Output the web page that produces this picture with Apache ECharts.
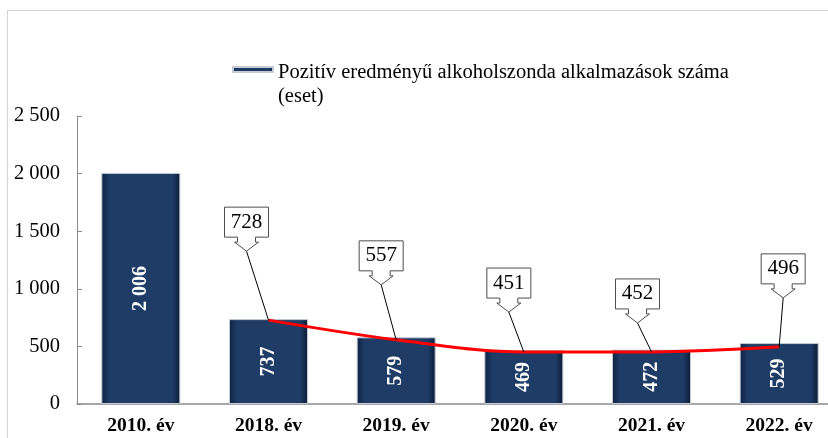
<!DOCTYPE html>
<html>
<head>
<meta charset="utf-8">
<script src="https://cdn.jsdelivr.net/npm/echarts@6/dist/echarts.min.js"></script>
<style>
  html, body { margin: 0; padding: 0; background: #fff; }
  #chart { width: 828px; height: 438px; }
</style>
</head>
<body>
<div id="chart"></div>
<script>
// adatok
const categories = ['2010. év', '2018. év', '2019. év', '2020. év', '2021. év', '2022. év'];
const barValues = [2006, 737, 579, 469, 472, 529];
const barName = 'Pozitív eredményű alkoholszonda alkalmazások száma\n(eset)';
const lineYears = ['2018. év', '2019. év', '2020. év', '2021. év', '2022. év'];
const lineValues = [728, 557, 451, 452, 496];

// a címkék nyilának csúcsa a ponthoz képest (px)
const calloutOffsets = [[-22, -69], [-15, -55], [-15, -40], [-14, -29], [4, -49]];
const calloutShape = [[-22, -44], [22, -44], [22, -14], [9, -14], [9, -9], [12, -9], [0, 0],
  [-12, -9], [-9, -9], [-9, -14], [-22, -14]];

const SERIF = '"Liberation Serif", "Times New Roman", serif';
const fmt = v => String(v).replace(/\B(?=(\d{3})+(?!\d))/g, ' ');

const chart = echarts.init(document.getElementById('chart'));

chart.setOption({
  backgroundColor: '#fff',
  animation: false,
  graphic: [{
    type: 'rect', z: -10, silent: true,
    shape: { x: 7.5, y: 10.5, width: 900, height: 500 },
    style: { fill: 'none', stroke: '#d4d4d4', lineWidth: 1 }
  }],
  legend: {
    data: [barName],
    left: 232, top: 60, padding: 0,
    itemWidth: 40, itemHeight: 48,
    icon: 'path://M0,0 M0,48 M0,6 L40,6 L40,11 L0,11 Z',
    textStyle: { fontFamily: SERIF, fontSize: 20.5, color: '#000', lineHeight: 24 }
  },
  grid: { left: 77, top: 116, width: 766, bottom: 34, outerBoundsMode: 'none', containLabel: false },
  xAxis: {
    type: 'category', data: categories,
    axisLine: { lineStyle: { color: '#8a8a8a', width: 1.5 } },
    axisTick: { show: false },
    axisLabel: { fontFamily: SERIF, fontSize: 19.5, fontWeight: 'bold', color: '#000', margin: 12 }
  },
  yAxis: {
    type: 'value', min: 0, max: 2500, interval: 500,
    axisLine: { show: true, lineStyle: { color: '#8a8a8a', width: 1 } },
    axisTick: { show: true, inside: true, length: 5, lineStyle: { color: '#8a8a8a' } },
    splitLine: { show: false },
    axisLabel: { fontFamily: SERIF, fontSize: 20.5, color: '#000', margin: 17, formatter: fmt }
  },
  series: [
    {
      name: barName, type: 'bar', data: barValues, barWidth: 79,
      itemStyle: {
        color: new echarts.graphic.LinearGradient(0, 0, 1, 0, [
          { offset: 0, color: '#0d2140' },
          { offset: 0.1, color: '#1e3c66' },
          { offset: 0.9, color: '#1e3c66' },
          { offset: 1, color: '#0b1b33' }
        ]),
        borderColor: '#c3cbd6', borderWidth: 1
      },
      label: {
        show: true, position: 'inside', rotate: 90, formatter: p => fmt(p.value),
        color: '#fff', fontFamily: SERIF, fontSize: 20, fontWeight: 'bold'
      }
    },
    {
      name: 'trend', type: 'line', smooth: 0.35, symbol: 'none', z: 3,
      data: lineYears.map((y, i) => [y, lineValues[i]]),
      lineStyle: { color: '#ff0000', width: 3 }
    },
    {
      name: 'callout', type: 'custom', z: 4,
      data: lineYears.map((y, i) => [y, lineValues[i]]),
      renderItem: (params, api) => {
        const pt = api.coord([api.value(0), api.value(1)]);
        const off = calloutOffsets[params.dataIndex];
        const tx = pt[0] + off[0], ty = pt[1] + off[1];
        return {
          type: 'group',
          children: [
            { type: 'line', shape: { x1: pt[0], y1: pt[1], x2: tx, y2: ty }, style: { stroke: '#000', lineWidth: 1 } },
            { type: 'polygon', shape: { points: calloutShape.map(p => [tx + p[0], ty + p[1]]) },
              style: { fill: '#fff', stroke: '#4d4d4d', lineWidth: 1 } },
            { type: 'text', x: tx, y: ty - 29,
              style: { text: String(api.value(1)), fill: '#000', font: '21px ' + SERIF, align: 'center', verticalAlign: 'middle' } }
          ]
        };
      }
    }
  ]
});
</script>
</body>
</html>
